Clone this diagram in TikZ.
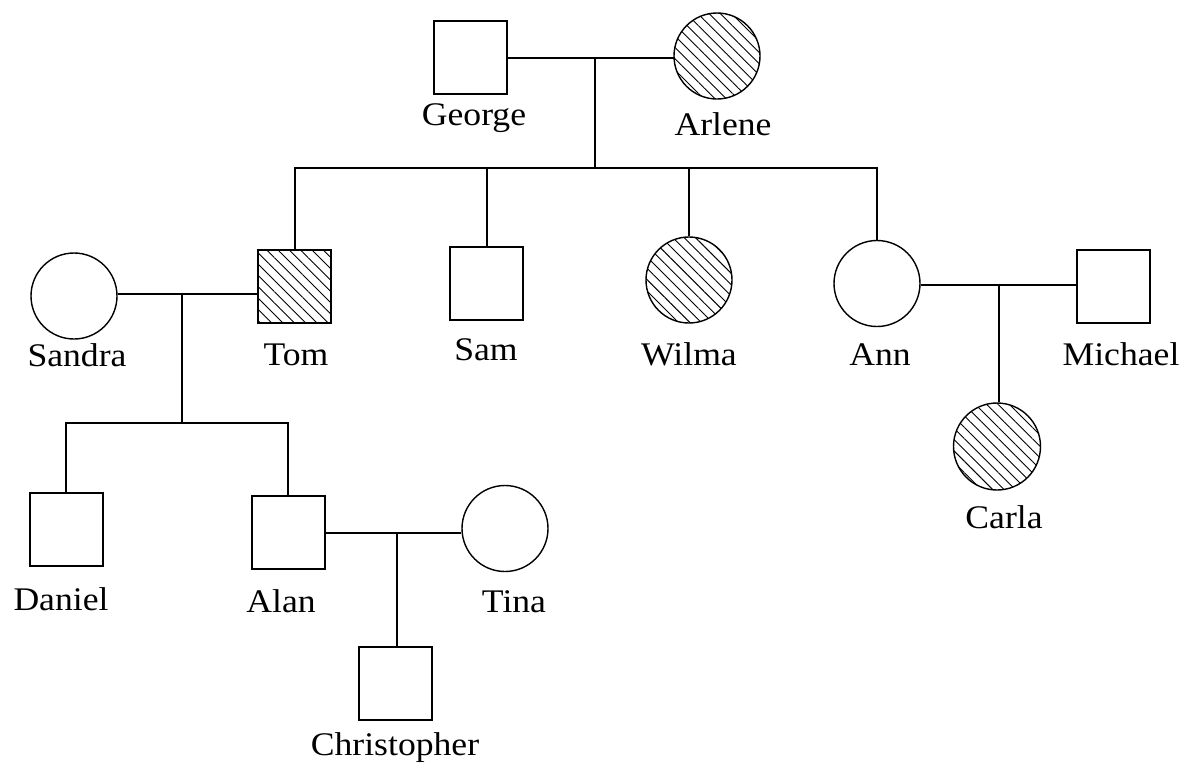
\documentclass[tikz,border=0pt]{standalone}
\usepackage{fontspec}
\setmainfont{Liberation Serif}[FakeStretch=1.08]
\usetikzlibrary{patterns.meta}

\begin{document}
\begin{tikzpicture}[x=1pt,y=-1pt,
  male/.style={draw, line width=2pt, rectangle, minimum size=73pt, inner sep=0pt},
  female/.style={draw, line width=1.4pt, circle, minimum size=86pt, inner sep=0pt},
  affected/.style={pattern={Lines[angle=-45,distance=8pt,line width=0.9pt]}, pattern color=black},
  link/.style={line width=2pt},
  nametext/.style={anchor=base, inner sep=0pt, font=\fontsize{33}{40}\selectfont}]

\useasboundingbox (0,0) rectangle (1183,764);
\fill[white] (0,0) rectangle (1183,764);

% generation I
\node[male] (george) at (470,57) {};
\node[female, affected] (arlene) at (717,56) {};

% generation II
\node[male, affected] (tom) at (294.5,286.5) {};
\node[male] (sam) at (486.5,283) {};
\node[female, affected] (wilma) at (689,280) {};
\node[female] (ann) at (877,283.5) {};
\node[male] (michael) at (1113,286.5) {};
\node[female] (sandra) at (74,296) {};

% generation III
\node[male] (daniel) at (66,529) {};
\node[male] (alan) at (288,532) {};
\node[female] (tina) at (505,528.5) {};
\node[female, affected, minimum size=87pt] (carla) at (997,446.5) {};

% generation IV
\node[male] (christopher) at (395.5,683) {};

% names
\node[nametext] (georgeL) at (474,125) {George};
\node[nametext] (arleneL) at (723,135) {Arlene};
\node[nametext] (sandraL) at (77,366) {Sandra};
\node[nametext] (tomL) at (296,365) {Tom};
\node[nametext] (samL) at (486,360) {Sam};
\node[nametext] (wilmaL) at (689,365) {Wilma};
\node[nametext] (annL) at (880,365) {Ann};
\node[nametext] (michaelL) at (1121,365) {Michael};
\node[nametext] (carlaL) at (1004,528) {Carla};
\node[nametext] (danielL) at (61,610) {Daniel};
\node[nametext] (alanL) at (281,612) {Alan};
\node[nametext] (tinaL) at (514,612) {Tina};
\node[nametext] (christopherL) at (395,755) {Christopher};

% mating points and sibship bars
\coordinate (ga) at (595,58);
\coordinate (gaBar) at (595,168);
\coordinate (st) at (182,294);
\coordinate (stBar) at (182,423);
\coordinate (am) at (999,285);
\coordinate (at) at (397,533);

% George + Arlene and their children
\draw[link] (george.east |- ga) -- (arlene.west |- ga);
\draw[link] (ga) -- (gaBar);
\draw[link] (tom.north) |- (gaBar) -| (ann.north);
\draw[link] (sam.north) -- (sam.north |- gaBar);
\draw[link] (wilma.north) -- (wilma.north |- gaBar);

% Sandra + Tom and their children
\draw[link] (sandra.east |- st) -- (tom.west |- st);
\draw[link] (st) -- (stBar);
\draw[link] (daniel.north) |- (stBar) -| (alan.north);

% Ann + Michael and their child
\draw[link] (ann.east |- am) -- (michael.west |- am);
\draw[link] (am) -- (am |- carla.north);

% Alan + Tina and their child
\draw[link] (alan.east |- at) -- (tina.west |- at);
\draw[link] (at) -- (at |- christopher.north);

\end{tikzpicture}
\end{document}
